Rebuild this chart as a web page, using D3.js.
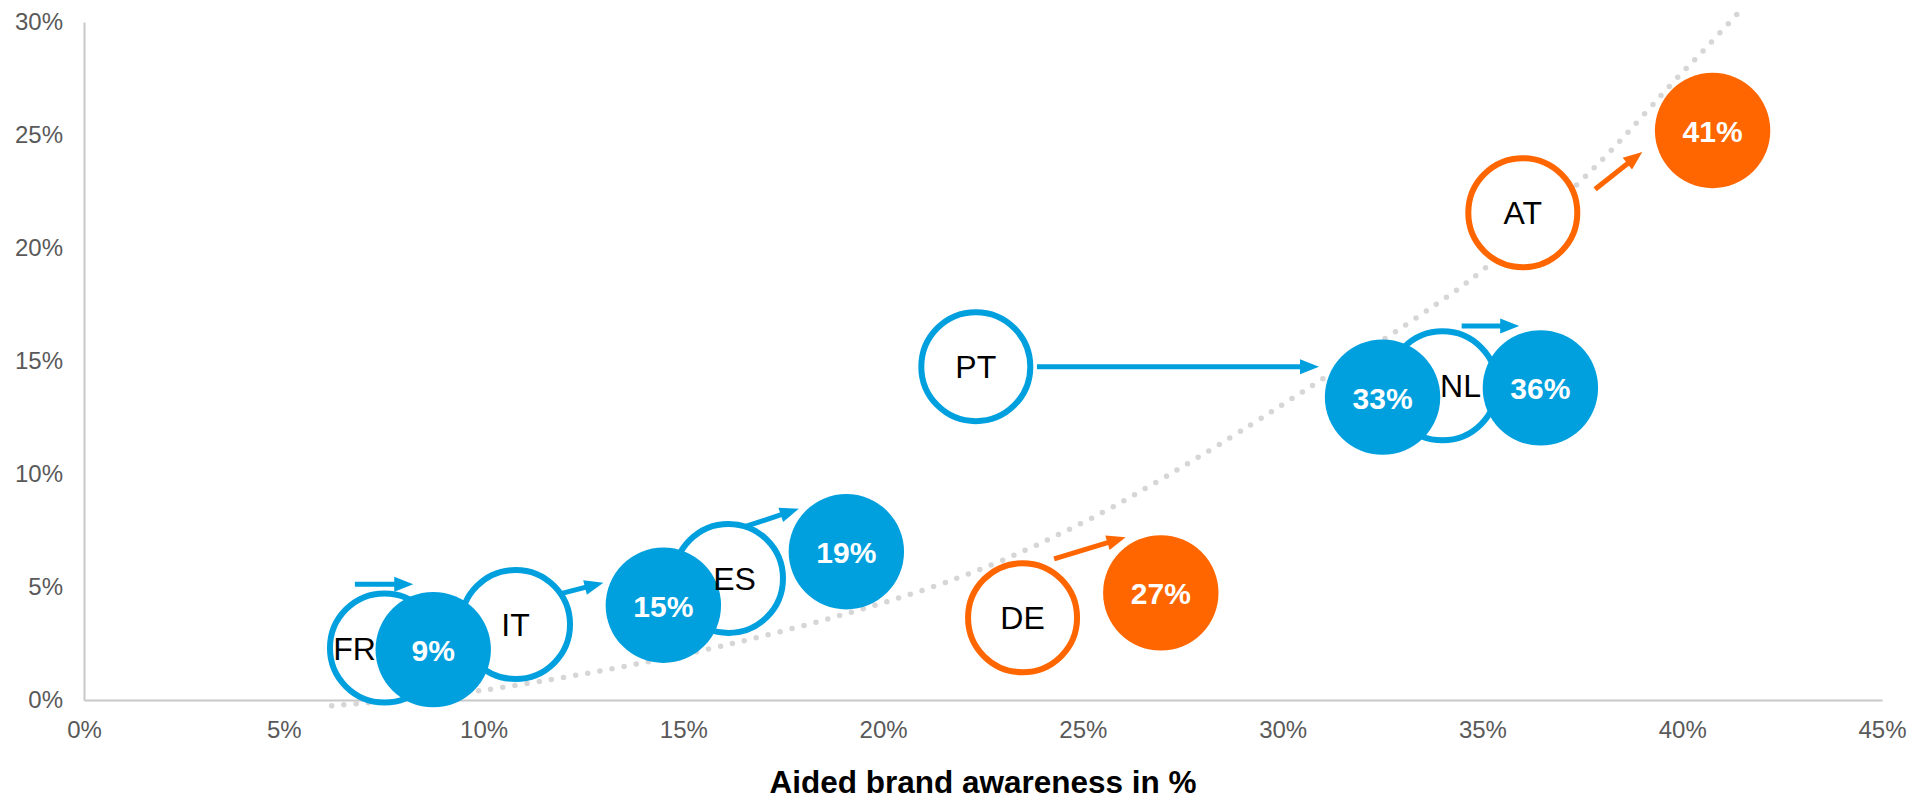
<!DOCTYPE html>
<html>
<head>
<meta charset="utf-8">
<script src="https://cdn.jsdelivr.net/npm/d3@7"></script>
<style>
  html, body { margin: 0; padding: 0; background: #ffffff; }
  svg { display: block; font-family: "Liberation Sans", Arial, sans-serif; }
</style>
</head>
<body>
<svg id="chart" width="1910" height="799"></svg>
<script>
// Countries, grouped by colour family
const countries = ["FR", "IT", "ES", "PT", "NL", "DE", "AT"];
const groups    = ["blue", "blue", "blue", "blue", "blue", "orange", "orange"];

// Starting position (open circles): aided awareness %, y-axis %
const startAware = [7.52, 10.8, 16.13, 22.32, 34.0, 23.49, 36.01];
const startY     = [2.3, 3.34, 5.38, 14.75, 13.9, 3.64, 21.56];

// Current position (filled circles): aided awareness %, y-axis %
const endAware = [8.74, 14.5, 19.08, 32.5, 36.45, 26.95, 40.76];
const endY     = [2.23, 4.19, 6.56, 13.4, 13.81, 4.74, 25.2];

// Movement arrows, in chart units (x %, y %)
const arrowFromX = [6.78, 11.96, 16.58, 23.85, 34.48, 24.28, 37.82];
const arrowFromY = [5.12, 4.72, 7.69, 14.75, 16.55, 6.24, 22.6];
const arrowToX   = [8.24, 13.0, 17.89, 30.91, 35.92, 26.07, 39.0];
const arrowToY   = [5.12, 5.19, 8.46, 14.75, 16.55, 7.2, 24.25];

// Dotted trend curve
const trendX = [6.2, 9.9, 16.25, 21.84, 24.93, 27.07, 29.2, 30.5, 33.82, 35.06, 37.36, 38.19, 39.86, 40.49, 41.53];
const trendY = [-0.25, 0.41, 2.51, 5.38, 7.79, 9.88, 12.17, 13.64, 17.48, 19.1, 22.8, 24.26, 27.5, 28.66, 30.65];

// Axis ticks
const xTicks = [0, 5, 10, 15, 20, 25, 30, 35, 40, 45];
const yTicks = [0, 5, 10, 15, 20, 25, 30];
const xTitle = "Aided brand awareness in %";

const palette = { blue: "#00A0DF", orange: "#FF6600" };

const svg = d3.select("#chart");
const x = d3.scaleLinear().domain([0, 45]).range([84, 1882]);
const y = d3.scaleLinear().domain([0, 30]).range([700, 22]);

// Axes
const axisColor = "#c8c8c8";
const tickColor = "#595959";

const gx = svg.append("g")
  .attr("transform", `translate(0,${y(0)})`)
  .call(d3.axisBottom(x).tickValues(xTicks).tickSize(0).tickSizeOuter(0)
    .tickPadding(21).tickFormat(d => d + "%"));
const gy = svg.append("g")
  .attr("transform", `translate(${x(0)},0)`)
  .call(d3.axisLeft(y).tickValues(yTicks).tickSize(0).tickSizeOuter(0)
    .tickPadding(21).tickFormat(d => d + "%"));

[gx, gy].forEach(g => {
  g.select(".domain").attr("stroke", axisColor).attr("stroke-width", 2);
  g.selectAll(".tick text")
    .attr("fill", tickColor)
    .attr("font-size", 24)
    .attr("font-family", "'Liberation Sans', Arial, sans-serif");
});

svg.append("text")
  .attr("x", 983)
  .attr("y", 793)
  .attr("text-anchor", "middle")
  .attr("font-size", 31.5)
  .attr("font-weight", "bold")
  .attr("fill", "#000")
  .text(xTitle);

// Trend curve
const trend = trendX.map((v, i) => [v, trendY[i]]);
const trendLine = d3.line()
  .x(d => x(d[0]))
  .y(d => y(d[1]))
  .curve(d3.curveCatmullRom.alpha(0.5));
svg.append("path")
  .datum(trend)
  .attr("fill", "none")
  .attr("stroke", "#d6d6d6")
  .attr("stroke-width", 5.5)
  .attr("stroke-linecap", "round")
  .attr("stroke-dasharray", "0 12.3")
  .attr("d", trendLine);

const rows = countries.map((c, i) => ({
  name: c,
  color: palette[groups[i]],
  sx: startAware[i], sy: startY[i],
  ex: endAware[i], ey: endY[i],
  ax0: arrowFromX[i], ay0: arrowFromY[i],
  ax1: arrowToX[i], ay1: arrowToY[i]
}));

// Arrows
const headLen = 19, headHalf = 7.5, shaft = 5;
const arrows = svg.append("g");
rows.forEach(r => {
  const x0 = x(r.ax0), y0 = y(r.ay0), x1 = x(r.ax1), y1 = y(r.ay1);
  const ang = Math.atan2(y1 - y0, x1 - x0);
  const len = Math.hypot(x1 - x0, y1 - y0);
  const g = arrows.append("g")
    .attr("transform", `translate(${x0},${y0}) rotate(${ang * 180 / Math.PI})`);
  g.append("line")
    .attr("x1", 0).attr("y1", 0)
    .attr("x2", len - headLen + 2).attr("y2", 0)
    .attr("stroke", r.color).attr("stroke-width", shaft);
  g.append("path")
    .attr("d", `M${len},0 L${len - headLen},${-headHalf} L${len - headLen},${headHalf} Z`)
    .attr("fill", r.color);
});

// Label offsets for names that would sit under a neighbouring bubble
const nameShift = { FR: -30, ES: 6, NL: 18 };

// Open circles (starting point)
const rOpen = 54.5, rFill = 57.7;
svg.append("g").selectAll("circle").data(rows).join("circle")
  .attr("cx", d => x(d.sx)).attr("cy", d => y(d.sy))
  .attr("r", rOpen)
  .attr("fill", "#fff")
  .attr("stroke", d => d.color)
  .attr("stroke-width", 6);

// Filled circles (current value)
const filled = svg.append("g").selectAll("g").data(rows).join("g");
filled.append("circle")
  .attr("cx", d => x(d.ex)).attr("cy", d => y(d.ey))
  .attr("r", rFill)
  .attr("fill", d => d.color);
filled.append("text")
  .attr("x", d => x(d.ex))
  .attr("y", d => y(d.ey))
  .attr("dy", "0.38em")
  .attr("text-anchor", "middle")
  .attr("font-size", 30)
  .attr("font-weight", "bold")
  .attr("fill", "#fff")
  .text(d => Math.round(d.ex) + "%");

// Country names, kept above the bubbles
svg.append("g").selectAll("text").data(rows).join("text")
  .attr("x", d => x(d.sx) + (nameShift[d.name] || 0))
  .attr("y", d => y(d.sy))
  .attr("dy", "0.36em")
  .attr("text-anchor", "middle")
  .attr("font-size", 32)
  .attr("fill", "#000")
  .text(d => d.name);
</script>
</body>
</html>
